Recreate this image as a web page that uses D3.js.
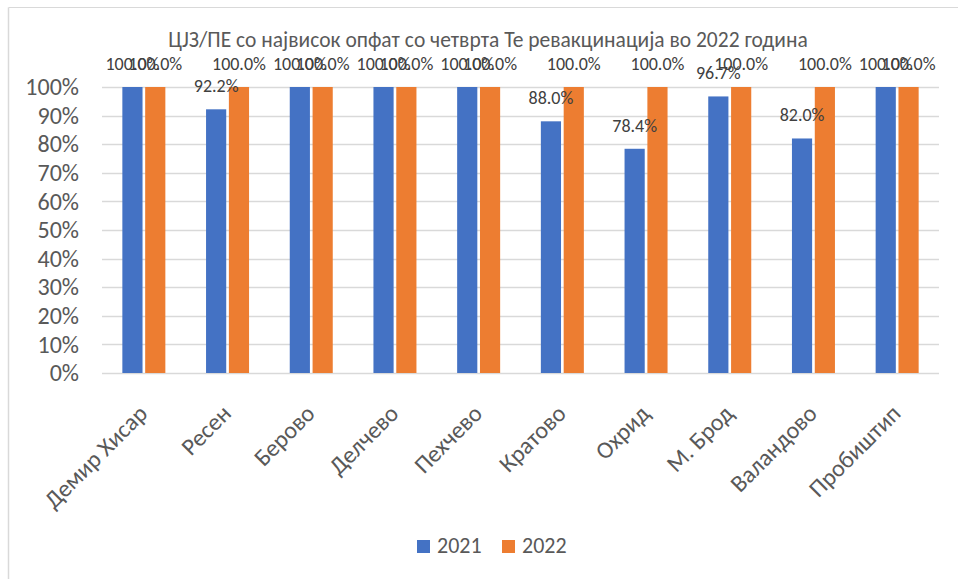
<!DOCTYPE html>
<html><head><meta charset="utf-8">
<script src="https://cdn.jsdelivr.net/npm/d3@7"></script>
<style>
body{margin:0;background:#fff;}
text{font-family:Calibri,Carlito,"Open Sans","Noto Sans",sans-serif;}
</style></head>
<body>
<svg id="chart" width="958" height="579"></svg>
<script>
const categories = ["Демир Хисар","Ресен","Берово","Делчево","Пехчево","Кратово","Охрид","М. Брод","Валандово","Пробиштип"];
const series2021 = [1.00,0.922,1.00,1.00,1.00,0.880,0.784,0.967,0.820,1.00];
const series2022 = [1.00,1.00,1.00,1.00,1.00,1.00,1.00,1.00,1.00,1.00];
const seriesNames = ["2021","2022"];
const colors = ["#4472C4","#ED7D31"];
const yTicks = [0,0.1,0.2,0.3,0.4,0.5,0.6,0.7,0.8,0.9,1.0];
const title = "ЦЈЗ/ПЕ со највисок опфат со четврта Те ревакцинација во 2022 година";

const svg = d3.select("#chart");
const W = 958, H = 579;
const m = {left:102, right:19, top:87, bottom:206};
const pw = W - m.left - m.right, ph = H - m.top - m.bottom;

// chart border (top and left visible)
svg.append("line").attr("x1",8.5).attr("x2",W).attr("y1",7.5).attr("y2",7.5).attr("stroke","#d9d9d9");
svg.append("line").attr("x1",8.5).attr("x2",8.5).attr("y1",7.5).attr("y2",H).attr("stroke","#d9d9d9").attr("stroke-width",1.5);

const x = d3.scaleBand().domain(categories).range([m.left, m.left+pw]).paddingInner(0).paddingOuter(0);
const x1 = d3.scaleBand().domain(seriesNames).range([0, 43]).paddingInner(5/43);
const y = d3.scaleLinear().domain([0,1]).range([m.top+ph, m.top]);

// gridlines
svg.append("g").selectAll("line").data(yTicks).join("line")
  .attr("x1",m.left).attr("x2",m.left+pw)
  .attr("y1",d=>Math.round(y(d))+0.5).attr("y2",d=>Math.round(y(d))+0.5)
  .attr("stroke","#d9d9d9").attr("stroke-width",1.5);

// y axis
const yAxis = d3.axisLeft(y).tickValues(yTicks).tickFormat(d3.format(".0%")).tickSize(0).tickPadding(23);
const gy = svg.append("g").attr("transform",`translate(${m.left},0)`).call(yAxis);
gy.select(".domain").remove();
gy.selectAll("text").attr("fill","#595959").style("font-size","24px");

const data = categories.map((c,i)=>({cat:c, vals:[series2021[i], series2022[i]]}));
const groups = svg.append("g").selectAll("g").data(data).join("g")
  .attr("transform",d=>`translate(${x(d.cat)+x.bandwidth()/2-21.5},0)`);

groups.selectAll("rect").data(d=>d.vals.map((v,j)=>({v, s:seriesNames[j], j}))).join("rect")
  .attr("x",d=>x1(d.s)).attr("width",x1.bandwidth())
  .attr("y",d=>y(d.v)).attr("height",d=>y(0)-y(d.v))
  .attr("fill",d=>colors[d.j]);

groups.selectAll("text.lbl").data(d=>d.vals.map((v,j)=>({v, s:seriesNames[j], j}))).join("text")
  .attr("class","lbl")
  .attr("x",d=>x1(d.s)+x1.bandwidth()/2).attr("y",d=>y(d.v)-17)
  .attr("text-anchor","middle").attr("fill","#404040").style("font-size","18px")
  .text(d=>d3.format(".1%")(d.v));

// x axis labels
const xAxis = d3.axisBottom(x).tickSize(0).tickPadding(0);
const gx = svg.append("g").attr("transform",`translate(0,${m.top+ph})`).call(xAxis);
gx.select(".domain").remove();
gx.selectAll("text").attr("fill","#595959").style("font-size","24px")
  .attr("text-anchor","end").attr("dy",null).attr("y",0)
  .attr("transform","translate(5,42) rotate(-45)");

// title
svg.append("text").attr("x",488).attr("y",47).attr("text-anchor","middle")
  .attr("fill","#595959").style("font-size","21.5px").text(title);

// legend
const leg = svg.append("g").selectAll("g").data(seriesNames).join("g")
  .attr("transform",(d,i)=>`translate(${417+i*85},540)`);
leg.append("rect").attr("width",13).attr("height",13).attr("fill",(d,i)=>colors[i]);
leg.append("text").attr("x",20).attr("y",13).attr("fill","#595959").style("font-size","22px").text(d=>d);
</script>
</body></html>
